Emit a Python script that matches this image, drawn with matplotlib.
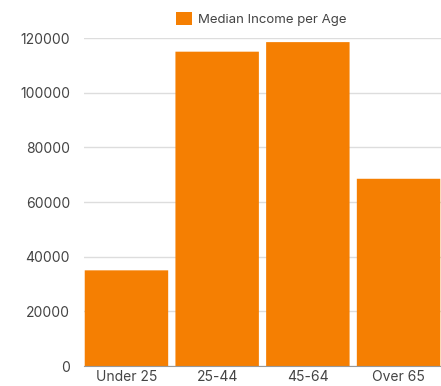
import matplotlib
matplotlib.use("Agg")
import matplotlib.pyplot as plt
from matplotlib.patches import FancyBboxPatch, Patch

# Data
categories = ["Under 25", "25-44", "45-64", "Over 65"]
median_income = [35000, 115000, 118500, 68500]
series_label = "Median Income per Age"
y_ticks = [0, 20000, 40000, 60000, 80000, 100000, 120000]

BAR_COLOR = "#f57f02"
TEXT_COLOR = "#444444"

plt.rcParams["font.family"] = ["Inter", "DejaVu Sans"]

fig = plt.figure(figsize=(4.41, 3.86), dpi=100)
ax = fig.add_axes([0.1905, 0.0518, 0.8095, 0.8497])

ax.set_xlim(-0.468, len(categories) - 0.532)
ax.set_ylim(0, 120000)

# rounded top corners; bottoms pushed below zero and clipped by the axes
width = 0.92
rad_x = 0.05
aspect = (120000 / 328) / (357 / 3.936)  # data units per px, y over x
for i, v in enumerate(median_income):
    r_y = rad_x * aspect
    p = FancyBboxPatch(
        (i - width / 2, -2 * r_y), width, v + 2 * r_y,
        boxstyle=f"round,pad=0,rounding_size={rad_x}",
        mutation_aspect=aspect,
        facecolor=BAR_COLOR, edgecolor="none", zorder=3,
    )
    ax.add_patch(p)

ax.set_xticks(range(len(categories)))
ax.set_xticklabels(categories)
ax.set_yticks(y_ticks)
ax.set_yticklabels([str(t) for t in y_ticks])
ax.tick_params(axis="both", length=0, labelsize=10, colors=TEXT_COLOR)
ax.tick_params(axis="x", pad=3)
ax.tick_params(axis="y", pad=10)

ax.grid(axis="y", color="#dddddd", linewidth=1, zorder=0)
ax.grid(axis="x", visible=False)
for side in ["top", "right", "left"]:
    ax.spines[side].set_visible(False)
ax.spines["bottom"].set_color("#999999")
ax.spines["bottom"].set_zorder(4)

handle = Patch(facecolor=BAR_COLOR, edgecolor="none")
fig.legend(
    [handle], [series_label], loc="center", bbox_to_anchor=(0.593, 0.951),
    frameon=False, fontsize=9.5, labelcolor=TEXT_COLOR,
    handlelength=1.15, handleheight=1.15, handletextpad=0.5,
)

fig.savefig("out.png", dpi=100)
